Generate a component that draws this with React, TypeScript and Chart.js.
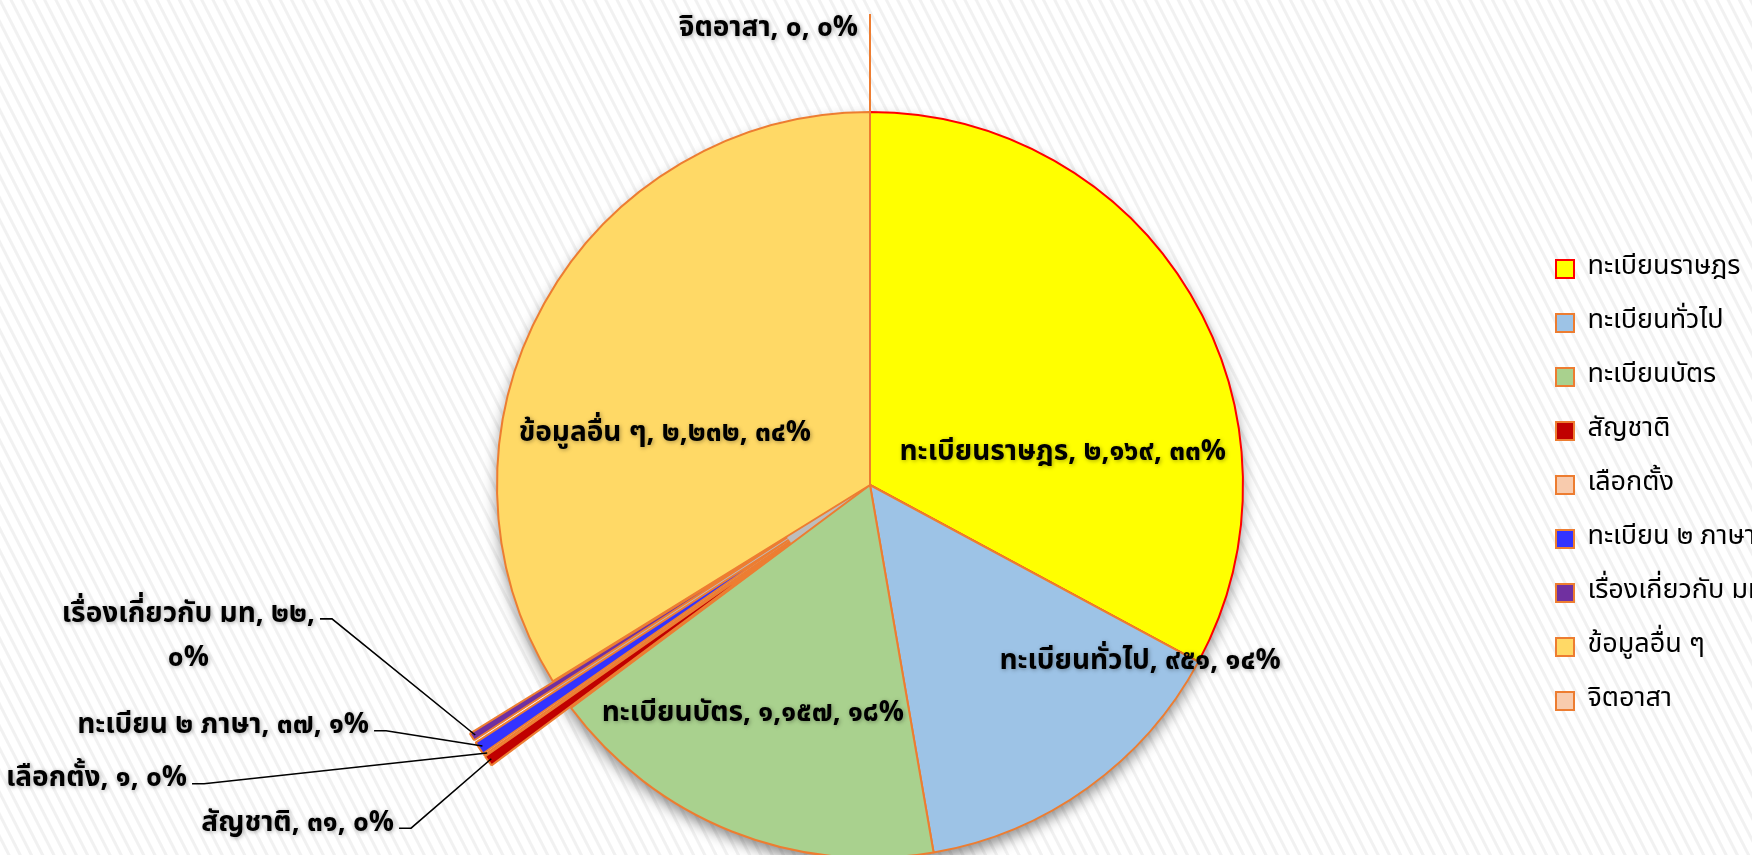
import React, { useEffect, useRef } from "react";
import { Chart, registerables } from "chart.js";

Chart.register(...registerables);

// ---------- data ----------
const categories = [
  "ทะเบียนราษฎร",
  "ทะเบียนทั่วไป",
  "ทะเบียนบัตร",
  "สัญชาติ",
  "เลือกตั้ง",
  "ทะเบียน ๒ ภาษา",
  "เรื่องเกี่ยวกับ มท",
  "ข้อมูลอื่น ๆ",
  "จิตอาสา",
];
const values = [2169, 951, 1157, 31, 1, 37, 22, 2232, 0];

// ---------- styles ----------
const fillColors = [
  "#FFFF00",
  "#9DC3E6",
  "#A9D18E",
  "#C00000",
  "#F8CBAD",
  "#3333FF",
  "#7030A0",
  "#FFD966",
  "#F8CBAD",
];
const borderColors = [
  "#FF0000",
  "#ED7D31",
  "#ED7D31",
  "#ED7D31",
  "#ED7D31",
  "#ED7D31",
  "#ED7D31",
  "#ED7D31",
  "#ED7D31",
];
const explodedSlices = [false, false, false, true, true, true, true, false, true];

const FONT = "Tahoma, 'Noto Sans Thai', Loma, 'Noto Sans', sans-serif";
const LABEL_SIZE = 28;
const LEGEND_SIZE = 27;
const LEGEND_PAD = 27;
const EXPLODE = 98;
const PIE_RADIUS = 373;
const CANVAS_W = 1800;
const CANVAS_H = 970;
const PAD_LEFT = 211;
const PAD_RIGHT = 41;
const LEGEND_W = 230;
const LEGEND_H = 946;

// label placement, in units of the pie radius relative to the pie centre
// inside: text centre; outside: right end of text (with leader line)
type Place =
  | { kind: "inside"; dx: number; dy: number }
  | { kind: "outside"; rx: number; ry: number; wrap?: boolean }
  | { kind: "plain"; rx: number; ry: number };
const placements: Place[] = [
  { kind: "inside", dx: 0.517, dy: -0.083 },
  { kind: "inside", dx: 0.724, dy: 0.477 },
  { kind: "inside", dx: -0.314, dy: 0.617 },
  { kind: "outside", rx: -1.276, ry: 0.912 },
  { kind: "outside", rx: -1.831, ry: 0.793 },
  { kind: "outside", rx: -1.343, ry: 0.651 },
  { kind: "outside", rx: -1.488, ry: 0.351, wrap: true },
  { kind: "inside", dx: -0.55, dy: -0.134 },
  { kind: "plain", rx: -0.032, ry: -1.22 },
];

const thaiDigits = "๐๑๒๓๔๕๖๗๘๙";
const toThai = (s: string) => s.replace(/[0-9]/g, (d) => thaiDigits[+d]);
const fmtNum = (n: number) =>
  toThai(n.toString().replace(/\B(?=(\d{3})+(?!\d))/g, ","));

const sliceLabels = {
  id: "sliceLabels",
  afterUpdate(chart: any) {
    const meta = chart.getDatasetMeta(0);
    meta.data.forEach((el: any, i: number) => {
      if (!explodedSlices[i]) return;
      const mid = (el.startAngle + el.endAngle) / 2;
      el.x += Math.cos(mid) * EXPLODE;
      el.y += Math.sin(mid) * EXPLODE;
    });
  },
  beforeDatasetsDraw(chart: any) {
    const meta = chart.getDatasetMeta(0);
    const el0: any = meta.data[0];
    const ctx: CanvasRenderingContext2D = chart.ctx;
    ctx.save();
    ctx.beginPath();
    ctx.arc(el0.x, el0.y, el0.outerRadius, 0, Math.PI * 2);
    ctx.fillStyle = "#BDBDBD";
    ctx.shadowColor = "rgba(0,0,0,0.45)";
    ctx.shadowBlur = 14;
    ctx.shadowOffsetY = 7;
    ctx.fill();
    ctx.restore();
  },
  afterDatasetsDraw(chart: any) {
    const meta = chart.getDatasetMeta(0);
    const el0: any = meta.data[0];
    const cx = el0.x;
    const cy = el0.y;
    const R = el0.outerRadius;
    const ctx: CanvasRenderingContext2D = chart.ctx;
    const data: number[] = chart.data.datasets[0].data;
    const total = data.reduce((a, b) => a + b, 0);

    // zero-value slices: only their border line is visible
    meta.data.forEach((el: any, i: number) => {
      if (data[i] !== 0) return;
      const a = el.startAngle;
      ctx.save();
      ctx.strokeStyle = borderColors[i];
      ctx.lineWidth = 2;
      ctx.beginPath();
      ctx.moveTo(el.x, el.y);
      ctx.lineTo(el.x + Math.cos(a) * el.outerRadius, el.y + Math.sin(a) * el.outerRadius);
      ctx.stroke();
      ctx.restore();
    });

    ctx.save();
    ctx.font = `bold ${LABEL_SIZE}px ${FONT}`;
    ctx.textBaseline = "middle";
    meta.data.forEach((el: any, i: number) => {
      const p = placements[i];
      const pct = Math.round((data[i] / total) * 100);
      const full = `${chart.data.labels[i]}, ${fmtNum(data[i])}, ${toThai(String(pct))}%`;
      const mid = (el.startAngle + el.endAngle) / 2;

      const drawText = (t: string, x: number, y: number, align: CanvasTextAlign) => {
        ctx.save();
        ctx.textAlign = align;
        ctx.shadowColor = "rgba(0,0,0,0.35)";
        ctx.shadowBlur = 4;
        ctx.shadowOffsetX = 1;
        ctx.shadowOffsetY = 1;
        ctx.fillStyle = "#000";
        ctx.fillText(t, x, y);
        ctx.restore();
      };

      if (p.kind === "inside") {
        drawText(full, cx + p.dx * R, cy + p.dy * R, "center");
      } else if (p.kind === "plain") {
        drawText(full, cx + p.rx * R, cy + p.ry * R, "right");
      } else {
        const right = cx + p.rx * R;
        const y = cy + p.ry * R;
        const leaderY = y + 3;
        if (p.wrap) {
          const l1 = `${chart.data.labels[i]}, ${fmtNum(data[i])},`;
          const l2 = `${toThai(String(pct))}%`;
          const w1 = ctx.measureText(l1).width;
          const centerX = right - w1 / 2;
          drawText(l1, centerX, y, "center");
          drawText(l2, centerX, y + LABEL_SIZE * 1.57, "center");
        } else {
          drawText(full, right, y, "right");
        }
        const tx = el.x + Math.cos(mid) * el.outerRadius * 0.99;
        const ty = el.y + Math.sin(mid) * el.outerRadius * 0.99;
        ctx.save();
        ctx.strokeStyle = "#000";
        ctx.lineWidth = 1.6;
        ctx.beginPath();
        ctx.moveTo(right + 5, leaderY);
        ctx.lineTo(right + 17, leaderY);
        ctx.lineTo(tx, ty);
        ctx.stroke();
        ctx.restore();
      }
    });
    ctx.restore();
  },
};

export default function App() {
  const ref = useRef<HTMLCanvasElement | null>(null);

  useEffect(() => {
    if (!ref.current) return;
    const chart = new Chart(ref.current, {
      type: "pie",
      data: {
        labels: categories,
        datasets: [
          {
            data: values,
            backgroundColor: fillColors,
            borderColor: borderColors,
            borderWidth: 2,
          },
        ],
      },
      options: {
        responsive: false,
        animation: false,
        events: [],
        radius: PIE_RADIUS,
        layout: { padding: { left: PAD_LEFT, right: PAD_RIGHT, top: 0, bottom: 0 } },
        plugins: {
          legend: {
            position: "right",
            align: "center",
            maxWidth: LEGEND_W,
            maxHeight: LEGEND_H,
            labels: {
              boxWidth: 18,
              boxHeight: 18,
              padding: LEGEND_PAD,
              color: "#000",
              font: { size: LEGEND_SIZE, family: FONT },
            },
          },
          tooltip: { enabled: false },
        },
      } as any,
      plugins: [sliceLabels],
    });
    return () => chart.destroy();
  }, []);

  return (
    <div
      style={{
        position: "fixed",
        left: 0,
        top: 0,
        width: 1752,
        height: 855,
        overflow: "hidden",
        background:
          "repeating-linear-gradient(63deg, #ffffff 0px, #ffffff 6px, #f1f1f1 7px, #f1f1f1 9px, #ffffff 10px)",
      }}
    >
      <canvas
        ref={ref}
        width={CANVAS_W}
        height={CANVAS_H}
        style={{ position: "absolute", left: 0, top: 0, width: CANVAS_W, height: CANVAS_H }}
      />
    </div>
  );
}
